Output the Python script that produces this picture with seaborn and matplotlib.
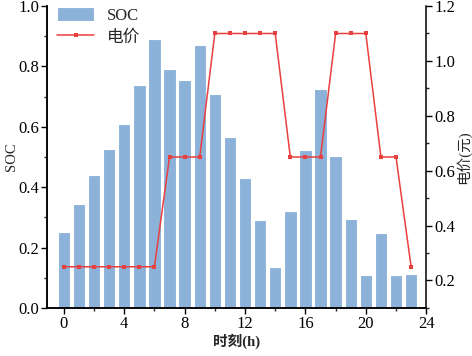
import numpy as np
import pandas as pd
import matplotlib
matplotlib.use('Agg')
import matplotlib.pyplot as plt
from matplotlib.ticker import MultipleLocator
import seaborn as sns

hours = list(range(24))
soc = [0.25, 0.345, 0.44, 0.525, 0.61, 0.74, 0.89, 0.79, 0.755, 0.87, 0.71, 0.565,
       0.43, 0.29, 0.135, 0.32, 0.524, 0.724, 0.504, 0.296, 0.108, 0.247, 0.11, 0.114]
price = [0.25, 0.25, 0.25, 0.25, 0.25, 0.25, 0.25, 0.65, 0.65, 0.65, 1.1, 1.1,
         1.1, 1.1, 1.1, 0.65, 0.65, 0.65, 1.1, 1.1, 1.1, 0.65, 0.65, 0.25]

data = pd.DataFrame({'hour': hours, 'soc': soc, 'price': price})

sns.set_style('ticks')
plt.rcParams['font.family'] = ['Liberation Serif', 'Noto Sans CJK SC']
plt.rcParams['font.size'] = 12

fig, ax = plt.subplots(figsize=(4.72, 3.56), dpi=100)

ax.bar(data['hour'], data['soc'], width=0.82, color='#8cb2da',
       edgecolor='white', linewidth=0.8, label='SOC', zorder=2)
ax.set_xlim(-1.1, 24)
ax.set_ylim(0, 1.0)
ax.xaxis.set_major_locator(MultipleLocator(4))
ax.xaxis.set_minor_locator(MultipleLocator(2))
ax.yaxis.set_major_locator(MultipleLocator(0.2))
ax.yaxis.set_minor_locator(MultipleLocator(0.1))
ax.set_ylabel('SOC', fontsize=10.5, labelpad=0)
ax.set_xlabel('时刻(h)', fontweight='bold', fontsize=10.5, labelpad=1)

ax2 = ax.twinx()
sns.lineplot(data=data, x='hour', y='price', ax=ax2, color='#e8403f',
             marker='s', markersize=3.5, markeredgewidth=0, linewidth=1.1,
             label='电价')
ax2.set_ylim(0.1, 1.2)
ax2.yaxis.set_major_locator(MultipleLocator(0.2))
ax2.yaxis.set_minor_locator(MultipleLocator(0.1))
ax2.set_ylabel('电价(元)', fontsize=10.5, labelpad=0)
ax2.set_xlabel('')

for a in (ax, ax2):
    a.spines['top'].set_visible(False)
    a.tick_params(which='major', direction='out', length=4, width=1, colors='black', pad=2)
    a.tick_params(which='minor', direction='out', length=2.5, width=1)
    for s in a.spines.values():
        s.set_linewidth(1.1)
        s.set_color('black')
ax.spines['right'].set_visible(False)

ax2.get_legend().remove()
h1, l1 = ax.get_legend_handles_labels()
h2, l2 = ax2.get_legend_handles_labels()
ax.legend(h1 + h2, l1 + l2, loc='upper left', frameon=False, fontsize=12,
          bbox_to_anchor=(0.0, 1.03), handlelength=2.2, handleheight=0.9,
          labelspacing=0.3, borderaxespad=0.2)

fig.subplots_adjust(left=0.1, right=0.903, top=0.983, bottom=0.135)
fig.savefig('out.png', dpi=100)
